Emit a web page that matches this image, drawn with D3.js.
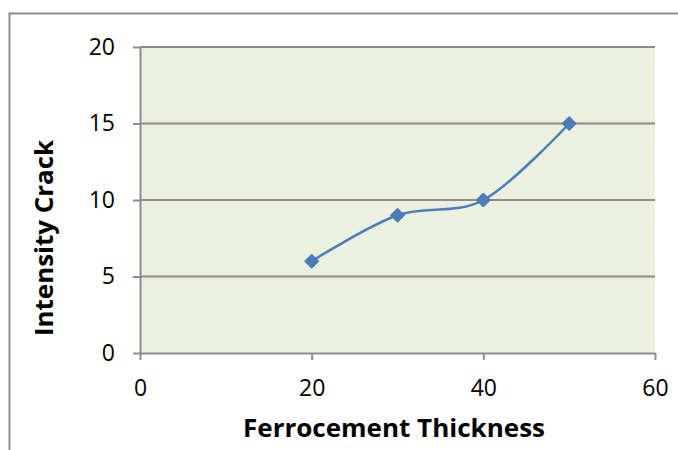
<!DOCTYPE html>
<html>
<head>
<meta charset="utf-8">
<script src="https://cdn.jsdelivr.net/npm/d3@7"></script>
<style>
  body { margin: 0; background: #fff; }
  text { font-family: "Open Sans", sans-serif; fill: #000; }
</style>
</head>
<body>
<script>
// data
var thickness = [20, 30, 40, 50];
var crack = [6, 9, 10, 15];
var xTicks = [0, 20, 40, 60];
var yTicks = [0, 5, 10, 15, 20];

var WIDTH = 678;
var HEIGHT = 450;
var PLOT = { left: 140, right: 655, top: 47, bottom: 353 };

var svg = d3.select('body').append('svg')
    .attr('width', WIDTH)
    .attr('height', HEIGHT);

// outer chart border (only top and left show in the crop)
svg.append('path')
    .attr('d', 'M9.5,' + HEIGHT + 'V13.5H' + WIDTH)
    .attr('fill', 'none')
    .attr('stroke', '#8c8c8c')
    .attr('stroke-width', 2);

var x = d3.scaleLinear().domain([0, 60]).range([PLOT.left, PLOT.right]);
var y = d3.scaleLinear().domain([0, 20]).range([PLOT.bottom, PLOT.top]);

svg.append('rect')
    .attr('x', PLOT.left)
    .attr('y', PLOT.top)
    .attr('width', PLOT.right - PLOT.left)
    .attr('height', PLOT.bottom - PLOT.top)
    .attr('fill', '#ebf1de');

// horizontal gridlines
svg.selectAll('.grid').data(yTicks.filter(function(d){return d > 0;})).enter()
    .append('line')
    .attr('class', 'grid')
    .attr('x1', PLOT.left)
    .attr('x2', PLOT.right)
    .attr('y1', function(d){return y(d);})
    .attr('y2', function(d){return y(d);})
    .attr('stroke', '#8c8c8c')
    .attr('stroke-width', 2);

// y axis
var yAxis = svg.append('g')
    .attr('transform', 'translate(' + PLOT.left + ',0)')
    .call(d3.axisLeft(y).tickValues(yTicks).tickSize(7).tickPadding(18).tickSizeOuter(0));

// x axis
var xAxis = svg.append('g')
    .attr('transform', 'translate(0,' + PLOT.bottom + ')')
    .call(d3.axisBottom(x).tickValues(xTicks).tickSize(7).tickPadding(20).tickSizeOuter(0));

[yAxis, xAxis].forEach(function(ax){
    ax.attr('font-family', null).attr('font-size', null);
    ax.select('.domain').attr('stroke', '#8c8c8c').attr('stroke-width', 2);
    ax.selectAll('.tick line').attr('stroke', '#8c8c8c').attr('stroke-width', 2);
    ax.selectAll('.tick text')
        .style('font-size', '23px')
        .style('font-family', '"Open Sans", sans-serif')
        .attr('fill', '#000');
});

// smoothed line like the spreadsheet "smoothed" option
var line = d3.line()
    .x(function(d){return x(d[0]);})
    .y(function(d){return y(d[1]);})
    .curve(d3.curveCardinal.tension(0));

var points = d3.zip(thickness, crack);

svg.append('path')
    .datum(points)
    .attr('d', line)
    .attr('fill', 'none')
    .attr('stroke', '#4a7ebb')
    .attr('stroke-width', 2.5);

svg.selectAll('.marker').data(points).enter()
    .append('path')
    .attr('class', 'marker')
    .attr('d', 'M0,-7L7,0L0,7L-7,0Z')
    .attr('transform', function(d){return 'translate(' + x(d[0]) + ',' + y(d[1]) + ')';})
    .attr('fill', '#4a7ebb')
    .attr('stroke', '#3f6fa8')
    .attr('stroke-width', 1);

// axis titles
svg.append('text')
    .attr('x', 394)
    .attr('y', 437)
    .attr('text-anchor', 'middle')
    .style('font-size', '25px')
    .attr('font-weight', 'bold')
    .attr('textLength', 302)
    .attr('lengthAdjust', 'spacingAndGlyphs')
    .text('Ferrocement Thickness');

svg.append('text')
    .attr('transform', 'translate(53,238) rotate(-90)')
    .attr('text-anchor', 'middle')
    .style('font-size', '25px')
    .attr('font-weight', 'bold')
    .attr('textLength', 196)
    .attr('lengthAdjust', 'spacingAndGlyphs')
    .text('Intensity Crack');
</script>
</body>
</html>
